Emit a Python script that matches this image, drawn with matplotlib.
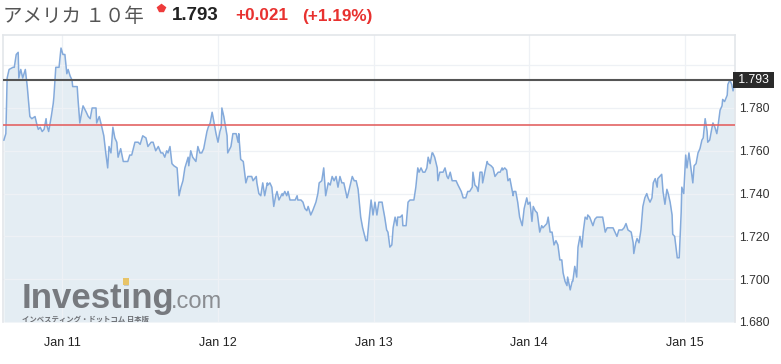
import matplotlib
matplotlib.use("Agg")
import matplotlib.pyplot as plt
from matplotlib.lines import Line2D
from matplotlib.patches import Rectangle
import matplotlib.transforms as mtransforms

plt.rcParams['font.family'] = ['Liberation Sans', 'Noto Sans CJK JP', 'DejaVu Sans']

# hours since Jan 11 00:00
hours = [
    -9.0, -8.7, -8.5, -8.2, -7.6, -7.4, -7.1, -6.8, -6.7, -6.4, -6.1, -5.7, -5.4, -5.0, -4.7, -4.2,
    -3.9, -3.7, -3.4, -3.1, -2.8, -2.5, -2.4, -2.1, -1.7, -1.4, -1.3, -1.0, -0.5, -0.2, 0.1, 0.4,
    0.7, 0.9, 1.2, 1.5, 1.6, 2.3, 2.4, 2.7, 3.0, 3.2, 3.7, 4.0, 4.3, 4.6, 5.2, 5.3,
    5.7, 6.1, 6.4, 6.7, 7.0, 7.2, 7.5, 7.8, 8.1, 8.4, 8.6, 9.0, 9.4, 9.7, 10.1, 10.4,
    10.7, 11.2, 11.7, 12.0, 12.4, 12.9, 13.2, 13.7, 14.0, 14.4, 14.8, 15.2, 15.5, 15.8, 16.1, 16.3,
    16.6, 16.9, 17.2, 17.7, 18.0, 18.3, 18.6, 18.9, 19.4, 19.5, 19.8, 20.1, 20.6, 20.9, 21.2, 21.5,
    21.8, 22.3, 22.5, 22.8, 23.1, 23.4, 23.7, 24.0, 24.3, 24.5, 24.6, 24.9, 25.4, 25.5, 26.0, 26.3,
    26.8, 27.1, 27.2, 27.5, 27.9, 28.3, 28.6, 28.9, 29.2, 29.4, 29.9, 30.0, 30.3, 30.6, 30.9, 31.2,
    31.6, 31.7, 32.0, 32.3, 32.6, 32.9, 33.1, 33.4, 33.9, 34.0, 34.3, 34.6, 34.8, 35.1, 35.6, 35.9,
    36.2, 36.3, 36.8, 37.1, 37.4, 37.7, 37.9, 38.3, 38.6, 39.1, 39.4, 39.6, 40.0, 40.3, 40.6, 41.0,
    41.3, 41.6, 41.9, 42.2, 42.5, 42.8, 43.1, 43.4, 43.9, 44.0, 44.7, 45.0, 45.3, 45.6, 46.0, 46.3,
    46.8, 47.0, 47.3, 47.6, 47.9, 48.2, 48.5, 48.8, 49.3, 49.4, 49.7, 50.0, 50.2, 50.5, 50.8, 51.0,
    51.3, 51.6, 51.7, 52.1, 52.4, 52.5, 53.0, 53.3, 53.6, 53.9, 54.2, 54.5, 54.8, 55.0, 55.3, 55.6,
    55.9, 56.2, 56.4, 56.7, 57.0, 57.1, 57.4, 57.8, 57.9, 58.2, 58.7, 59.0, 59.3, 59.5, 59.8, 60.1,
    60.7, 61.0, 61.5, 61.8, 62.2, 62.5, 62.8, 63.2, 63.3, 63.6, 63.9, 64.1, 64.4, 64.7, 64.8, 65.2,
    65.5, 65.6, 66.1, 66.4, 66.7, 67.2, 67.5, 67.8, 67.9, 68.2, 68.5, 68.7, 69.0, 69.5, 69.6, 69.9,
    70.2, 70.5, 70.9, 71.2, 71.6, 71.8, 72.1, 72.4, 72.6, 72.9, 73.2, 73.3, 73.6, 73.9, 74.1, 74.4,
    74.7, 74.9, 75.2, 75.5, 75.8, 76.1, 76.4, 76.7, 77.0, 77.2, 77.5, 77.8, 77.9, 78.3, 78.6, 78.7,
    79.0, 79.3, 79.5, 79.8, 80.1, 80.3, 80.6, 80.9, 81.0, 81.3, 81.8, 82.1, 82.4, 82.9, 83.3, 83.7,
    84.0, 84.4, 84.9, 85.5, 85.8, 86.3, 86.6, 86.9, 87.2, 87.7, 88.0, 88.1, 88.4, 88.6, 88.9, 89.2,
    89.5, 89.8, 90.1, 90.3, 90.6, 90.9, 91.1, 91.4, 91.7, 91.8, 92.1, 92.4, 92.6, 92.9, 93.2, 93.4,
    93.7, 94.0, 94.1, 94.4, 94.8, 94.9, 95.1, 95.4, 95.5, 95.8, 96.1, 96.3, 96.6, 96.9, 97.2, 97.4,
    97.7, 98.0, 98.3, 98.6, 98.8, 99.1, 99.4, 99.5, 99.8, 100.1, 100.3, 100.6, 100.9, 101.1, 101.4, 101.7,
    101.8, 102.1, 102.5, 102.6, 102.9, 103.2, 103.4, 103.7,
]
yields = [
    1.765, 1.768, 1.794, 1.798, 1.799, 1.799, 1.805, 1.806, 1.794, 1.798, 1.794, 1.798, 1.790, 1.776, 1.775, 1.776,
    1.772, 1.770, 1.771, 1.769, 1.770, 1.775, 1.772, 1.769, 1.776, 1.782, 1.785, 1.799, 1.799, 1.808, 1.805, 1.805,
    1.796, 1.798, 1.795, 1.793, 1.790, 1.790, 1.785, 1.773, 1.778, 1.781, 1.778, 1.776, 1.775, 1.780, 1.780, 1.773,
    1.776, 1.771, 1.767, 1.759, 1.752, 1.762, 1.759, 1.771, 1.766, 1.764, 1.757, 1.761, 1.755, 1.755, 1.755, 1.758,
    1.758, 1.764, 1.764, 1.763, 1.767, 1.766, 1.762, 1.764, 1.764, 1.760, 1.762, 1.759, 1.759, 1.757, 1.760, 1.759,
    1.762, 1.754, 1.753, 1.752, 1.739, 1.743, 1.746, 1.752, 1.757, 1.753, 1.760, 1.757, 1.755, 1.762, 1.759, 1.759,
    1.761, 1.769, 1.771, 1.773, 1.778, 1.773, 1.768, 1.764, 1.769, 1.771, 1.780, 1.776, 1.767, 1.759, 1.762, 1.768,
    1.768, 1.764, 1.768, 1.756, 1.755, 1.745, 1.748, 1.748, 1.748, 1.746, 1.748, 1.745, 1.740, 1.739, 1.745, 1.739,
    1.745, 1.744, 1.745, 1.743, 1.734, 1.739, 1.741, 1.737, 1.740, 1.739, 1.741, 1.739, 1.741, 1.737, 1.737, 1.737,
    1.739, 1.737, 1.737, 1.736, 1.733, 1.732, 1.734, 1.730, 1.732, 1.736, 1.740, 1.745, 1.746, 1.752, 1.739, 1.745,
    1.744, 1.748, 1.746, 1.748, 1.743, 1.748, 1.745, 1.745, 1.738, 1.739, 1.748, 1.746, 1.746, 1.742, 1.729, 1.724,
    1.718, 1.718, 1.728, 1.737, 1.730, 1.736, 1.730, 1.736, 1.736, 1.734, 1.729, 1.723, 1.722, 1.715, 1.716, 1.724,
    1.729, 1.725, 1.729, 1.729, 1.730, 1.725, 1.725, 1.736, 1.737, 1.737, 1.737, 1.743, 1.752, 1.750, 1.752, 1.750,
    1.750, 1.752, 1.757, 1.754, 1.759, 1.759, 1.757, 1.752, 1.746, 1.750, 1.750, 1.752, 1.748, 1.747, 1.750, 1.746,
    1.746, 1.744, 1.741, 1.738, 1.738, 1.741, 1.741, 1.743, 1.750, 1.744, 1.743, 1.741, 1.750, 1.750, 1.745, 1.751,
    1.755, 1.754, 1.753, 1.752, 1.748, 1.750, 1.750, 1.752, 1.751, 1.752, 1.751, 1.746, 1.747, 1.739, 1.741, 1.741,
    1.736, 1.729, 1.725, 1.733, 1.738, 1.735, 1.736, 1.727, 1.734, 1.732, 1.731, 1.729, 1.722, 1.725, 1.724, 1.725,
    1.726, 1.729, 1.722, 1.722, 1.716, 1.718, 1.716, 1.709, 1.709, 1.703, 1.699, 1.697, 1.701, 1.695, 1.699, 1.699,
    1.706, 1.701, 1.715, 1.720, 1.715, 1.722, 1.729, 1.728, 1.730, 1.729, 1.725, 1.728, 1.729, 1.729, 1.729, 1.722,
    1.724, 1.724, 1.724, 1.720, 1.723, 1.723, 1.724, 1.726, 1.723, 1.722, 1.717, 1.712, 1.717, 1.719, 1.717, 1.723,
    1.734, 1.738, 1.740, 1.738, 1.736, 1.738, 1.745, 1.747, 1.743, 1.747, 1.748, 1.749, 1.741, 1.735, 1.742, 1.740,
    1.736, 1.730, 1.721, 1.720, 1.710, 1.710, 1.710, 1.731, 1.743, 1.740, 1.758, 1.752, 1.759, 1.752, 1.745, 1.753,
    1.754, 1.759, 1.761, 1.765, 1.766, 1.775, 1.769, 1.764, 1.765, 1.770, 1.773, 1.771, 1.768, 1.772, 1.779, 1.781,
    1.784, 1.783, 1.786, 1.791, 1.793, 1.791, 1.788, 1.793,
]

day_ticks = [0, 24, 48, 72, 96]
day_labels = ['Jan 11', 'Jan 12', 'Jan 13', 'Jan 14', 'Jan 15']
y_ticks = [1.680, 1.700, 1.720, 1.740, 1.760, 1.780]
grid_levels = [1.680, 1.700, 1.720, 1.740, 1.760, 1.780, 1.800]

last_price = 1.793
prev_close = 1.772
change = '+0.021'
change_pct = '(+1.19%)'
title = 'アメリカ １０年'

W, H = 781, 364
fig = plt.figure(figsize=(W / 100, H / 100), dpi=100)
ax = fig.add_axes([3 / W, 42 / H, 732 / W, 287 / H])

ax.set_xlim(-9.14, 103.7)
ax.set_ylim(1.680, 1.8141)

ax.fill_between(hours, yields, 1.680, color='#e4edf3', lw=0, zorder=1)
for lv in grid_levels:
    ax.axhline(lv, color='#eef1f5', lw=0.9, zorder=1.5)
for d in day_ticks:
    ax.axvline(d, color='#eef1f5', lw=0.9, zorder=1.5)
ax.plot(hours, yields, color='#84aadb', lw=1.1, zorder=3)

ax.axhline(last_price, color='#555555', lw=1.5, zorder=4)
ax.axhline(prev_close, color='#e36464', lw=1.2, zorder=4)

ax.set_xticks(day_ticks)
ax.set_xticklabels(day_labels)
ax.yaxis.tick_right()
ax.set_yticks(y_ticks)
ax.set_yticklabels([f'{v:.3f}' for v in y_ticks])
ax.tick_params(axis='x', length=0, pad=11, labelsize=9, labelcolor='#222222')
ax.tick_params(axis='y', length=0, pad=3, labelsize=8.7, labelcolor='#333333')

for s in ['left', 'top', 'right']:
    ax.spines[s].set_color('#e3e6ea')
    ax.spines[s].set_linewidth(1.2)
ax.spines['bottom'].set_visible(False)

# price tag on the right axis
trans = mtransforms.blended_transform_factory(ax.transAxes, ax.transData)
ax.text(1.0, last_price, f' {last_price:.3f} ', transform=trans, ha='left', va='center',
        fontsize=8.7, color='white', zorder=6, clip_on=False,
        bbox=dict(boxstyle='square,pad=0.15', fc='#2a2a2a', ec='none'))

# watermark
ax.text(0.026, 0.05, 'Investing', transform=ax.transAxes, fontsize=25, fontweight='bold',
        color='#777a7f', ha='left', va='baseline', zorder=5)
ax.text(0.229, 0.05, '.com', transform=ax.transAxes, fontsize=17, color='#8a8d91',
        ha='left', va='baseline', zorder=5)
ax.add_patch(Rectangle((0.164, 0.130), 0.008, 0.024, transform=ax.transAxes,
                       color='#e8c468', zorder=6, lw=0))
ax.text(0.026, 0.008, 'インベスティング・ドットコム 日本版', transform=ax.transAxes,
        fontsize=5.3, color='#6d7075', family=['Noto Sans CJK JP', 'DejaVu Sans'],
        ha='left', va='center', zorder=5, clip_on=True, fontweight='bold')

# header
fig.text(3 / W, 1 - 16 / H, title, fontsize=14, color='#555555',
         family=['Noto Sans CJK JP', 'DejaVu Sans'], ha='left', va='center')
fig.add_artist(Line2D([161 / W], [1 - 8 / H], marker='p', markersize=6,
                      color='#ee3b3b', transform=fig.transFigure))
fig.text(172 / W, 1 - 16 / H, f'{last_price:.3f}', fontsize=13.5, fontweight='bold',
         color='#222222', ha='left', va='center')
fig.text(235 / W, 1 - 16 / H, change, fontsize=12.3, fontweight='bold',
         color='#e8312f', ha='left', va='center')
fig.text(302 / W, 1 - 16 / H, change_pct, fontsize=12.3, fontweight='bold',
         color='#e8312f', ha='left', va='center')

fig.savefig('out.png', dpi=100, facecolor='white')
